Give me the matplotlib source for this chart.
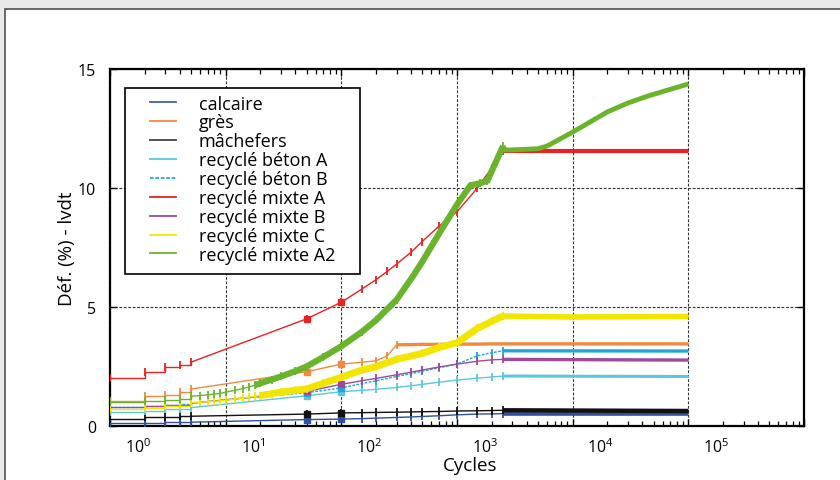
import matplotlib
matplotlib.use("Agg")
import matplotlib.pyplot as plt
import matplotlib.transforms as mtransforms
from matplotlib.lines import Line2D
from matplotlib.patches import Rectangle
from matplotlib.ticker import LogLocator, NullFormatter, FixedLocator

plt.rcParams['font.family'] = ['Open Sans', 'DejaVu Sans']

# ---------------- data ----------------
names = ["calcaire", "grès", "mâchefers", "recyclé béton A", "recyclé béton B",
         "recyclé mixte A", "recyclé mixte B", "recyclé mixte C", "recyclé mixte A2"]

cyc_calcaire = [1, 2, 3, 4, 5, 50, 100, 150, 200, 300, 400, 500, 700, 1000, 1500, 2000, 2500, 100000]
val_calcaire = [0.12, 0.14, 0.15, 0.15, 0.16, 0.27, 0.29, 0.31, 0.33, 0.36, 0.38, 0.40, 0.43, 0.47, 0.50, 0.51, 0.52, 0.52]

cyc_gres = [1, 2, 3, 4, 5, 50, 100, 150, 200, 250, 300, 400, 500, 700, 1000, 1500, 2000, 2500, 100000]
val_gres = [1.06, 1.27, 1.32, 1.44, 1.55, 2.28, 2.60, 2.68, 2.74, 2.95, 3.41, 3.42, 3.43, 3.43, 3.44, 3.44, 3.45, 3.45, 3.45]

cyc_machefers = [1, 2, 3, 4, 5, 50, 100, 150, 200, 300, 400, 500, 700, 1000, 1500, 2000, 2500, 100000]
val_machefers = [0.30, 0.36, 0.38, 0.40, 0.41, 0.50, 0.55, 0.56, 0.57, 0.58, 0.59, 0.60, 0.61, 0.63, 0.64, 0.65, 0.66, 0.63]

cyc_betonA = [1, 2, 3, 4, 5, 50, 100, 150, 200, 300, 400, 500, 700, 1000, 1500, 2000, 2500, 100000]
val_betonA = [0.60, 0.65, 0.70, 0.73, 0.77, 1.27, 1.44, 1.50, 1.54, 1.62, 1.69, 1.75, 1.84, 1.93, 2.01, 2.06, 2.10, 2.08]

cyc_betonB = [1, 2, 3, 4, 5, 50, 100, 150, 200, 300, 400, 500, 700, 1000, 1500, 2000, 2500, 100000]
val_betonB = [0.80, 0.86, 0.90, 0.93, 0.97, 1.40, 1.60, 1.78, 1.90, 2.08, 2.20, 2.30, 2.45, 2.60, 2.95, 3.08, 3.16, 3.15]

cyc_mixteA = [1, 2, 3, 4, 5, 50, 100, 150, 200, 250, 300, 400, 500, 700, 1000, 1500, 2000, 2500, 5000, 10000, 100000]
val_mixteA = [2.00, 2.27, 2.47, 2.58, 2.68, 4.50, 5.20, 5.75, 6.15, 6.50, 6.80, 7.30, 7.75, 8.40, 9.00, 10.00, 10.85, 11.55, 11.55, 11.55, 11.55]

cyc_mixteB = [1, 2, 3, 4, 5, 50, 100, 150, 200, 300, 400, 500, 700, 1000, 1500, 2000, 2500, 100000]
val_mixteB = [0.78, 0.83, 0.87, 0.90, 0.95, 1.45, 1.75, 1.90, 2.00, 2.15, 2.26, 2.35, 2.48, 2.60, 2.72, 2.78, 2.80, 2.77]

cyc_mixteC = [1, 2, 3, 4, 5, 6, 7, 8, 9, 10, 12, 14, 16, 18, 20, 25, 30, 40, 50, 70, 100, 150, 200,
              300, 500, 700, 1000, 1500, 2000, 2500, 10000, 100000]
val_mixteC = [0.72, 0.76, 0.82, 0.86, 0.98, 1.00, 1.02, 1.04, 1.06, 1.08, 1.13, 1.17, 1.21, 1.25, 1.28,
              1.36, 1.42, 1.50, 1.56, 1.80, 2.05, 2.35, 2.50, 2.80, 3.05, 3.30, 3.50, 4.10, 4.40, 4.62, 4.58, 4.60]

cyc_mixteA2 = [1, 2, 3, 4, 5, 6, 7, 8, 9, 10, 12, 14, 16, 18, 20, 25, 30, 40, 50, 70, 100, 150, 200,
               300, 417, 500, 724, 1000, 1300, 1580, 1830, 2500, 2600, 3000, 5000, 6000, 10000, 20000,
               30000, 45000, 100000]
val_mixteA2 = [1.00, 1.05, 1.10, 1.15, 1.25, 1.28, 1.31, 1.34, 1.37, 1.42, 1.50, 1.57, 1.64, 1.72, 1.80,
               1.95, 2.08, 2.30, 2.50, 2.90, 3.35, 3.95, 4.45, 5.30, 6.30, 6.90, 8.20, 9.30, 10.10, 10.20,
               10.30, 11.76, 11.60, 11.60, 11.65, 11.76, 12.35, 13.20, 13.57, 13.87, 14.37]

x_ticks = [1, 10, 100, 1000, 10000, 100000, 1000000]
y_ticks = [0, 5, 10, 15]

series = [
    (cyc_calcaire, val_calcaire), (cyc_gres, val_gres), (cyc_machefers, val_machefers),
    (cyc_betonA, val_betonA), (cyc_betonB, val_betonB), (cyc_mixteA, val_mixteA),
    (cyc_mixteB, val_mixteB), (cyc_mixteC, val_mixteC), (cyc_mixteA2, val_mixteA2),
]

# ---------------- styles ----------------
colors = ["#2f4f9f", "#f08a40", "#111111", "#5cc6dc", "#1ea6e0", "#e62222", "#9c4a9c", "#f2e600", "#6ab42c"]
legend_colors = ["#4060a8", "#f08a40", "#444444", "#5cc6dc", "#1ea6e0", "#e62222", "#9c4a9c", "#f2e600", "#6ab42c"]
linestyles = ["-", "-", "-", "-", (0, (2, 1)), "-", "-", "-", "-"]
dense_style = [None, None, None, None, None, None, None, (20, 5.0), (18, 4.5)]
knee_cycle = [2500, 300, 2500, 2500, 2500, 2500, 2500, 2500, 2500]
knee_lw = [2.6, 2.4, 3.2, 2.2, 2.4, 3.0, 2.4, 4.0, 3.5]
zorders = [3, 3, 3, 3, 3, 4, 3, 5, 6]

W, H = 840, 481
fig = plt.figure(figsize=(8.4, 4.81), dpi=100)
fig.patch.set_facecolor("#e9e9e9")
fig.patches.append(Rectangle((5 / W, -0.05), 1.2, (H - 10) / H + 0.05,
                             transform=fig.transFigure, facecolor="white",
                             edgecolor="#505050", lw=1.2, zorder=-10))

AX_L, AX_R, AX_T, AX_B = 110, 804, 70, 427
ax = fig.add_axes([AX_L / W, 1 - AX_B / H, (AX_R - AX_L) / W, (AX_B - AX_T) / H])
ax.set_xscale("log")
ax.set_xlim(1, 1e6)
ax.set_ylim(0, 15)


def ax_frac(px, py):
    return (px - AX_L) / (AX_R - AX_L), (AX_B - py) / (AX_B - AX_T)


for i, (cx, vy) in enumerate(series):
    c = colors[i]
    ls = linestyles[i]
    z = zorders[i]
    ax.plot(cx[:5], vy[:5], color=c, lw=1.0, ls=ls, drawstyle="steps-post", zorder=z)
    ax.plot(cx[4:], vy[4:], color=c, lw=1.0, ls=ls, zorder=z)
    kidx = cx.index(knee_cycle[i])
    ax.plot(cx[:kidx + 1], vy[:kidx + 1], ls="none", marker="|", ms=6, mew=1.3, color=c, zorder=z)
    if dense_style[i] is not None:
        d0, dlw = dense_style[i]
        j = cx.index(d0)
        ax.plot(cx[j:kidx + 1], vy[j:kidx + 1], color=c, lw=dlw, zorder=z, solid_capstyle="butt")
    else:
        for cc in (50, 100):
            if cc in cx:
                k = cx.index(cc)
                ax.plot([cx[k]], [vy[k]], ls="none", marker="s", ms=4.5, color=c, zorder=z)
    ax.plot(cx[kidx:], vy[kidx:], color=c, lw=knee_lw[i], zorder=z, solid_capstyle="butt")

ax.grid(True, which="major", color="#333333", ls=(0, (2.5, 1.5)), lw=0.8)
ax.set_axisbelow(True)

ax.xaxis.set_major_locator(FixedLocator(x_ticks))
ax.xaxis.set_minor_locator(LogLocator(base=10, subs=range(2, 10), numticks=20))
ax.xaxis.set_minor_formatter(NullFormatter())
ax.set_yticks(y_ticks)
ax.set_xticks(x_ticks)
ax.set_xticklabels([r"$\mathdefault{10^{%d}}$" % k for k in range(7)])
ax.get_xticklabels()[-1].set_visible(False)
ax.tick_params(axis="both", which="major", direction="in", length=5, width=1.0,
               top=True, right=True, labelsize=11.5, colors="black")
ax.tick_params(axis="x", which="minor", direction="in", length=3.5, width=0.9, top=True)
ax.tick_params(axis="x", which="major", pad=8)
ax.tick_params(axis="y", which="major", pad=10)
offset = mtransforms.ScaledTranslation(28 / 100, 0, fig.dpi_scale_trans)
for lab in ax.get_xticklabels():
    lab.set_transform(lab.get_transform() + offset)

for s in ax.spines.values():
    s.set_linewidth(1.6)
    s.set_color("black")

ax.set_ylabel("Déf. (%) - lvdt", fontsize=13.5, labelpad=1)
ax.set_xlabel("Cycles", fontsize=13.5)
ax.xaxis.set_label_coords(*ax_frac(470, 466))
ax.xaxis.label.set_va("center")

# legend: frame drawn as a rectangle, entries from ax.legend
bx0, by0 = ax_frac(125, 275)
bx1, by1 = ax_frac(360, 89)
ax.add_patch(Rectangle((bx0, by0), bx1 - bx0, by1 - by0, transform=ax.transAxes,
                       facecolor="white", edgecolor="black", lw=1.2, zorder=9))
handles = [Line2D([0], [0], color=legend_colors[i], lw=1.3, ls=linestyles[i]) for i in range(len(names))]
leg = ax.legend(handles, names, loc="upper left", bbox_to_anchor=ax_frac(150, 95.5),
                fontsize=13, frameon=False, handlelength=1.45, handletextpad=1.25,
                labelspacing=0.05, borderpad=0, borderaxespad=0)
leg.set_zorder(10)

fig.savefig("out.png", dpi=100, facecolor=fig.get_facecolor())
